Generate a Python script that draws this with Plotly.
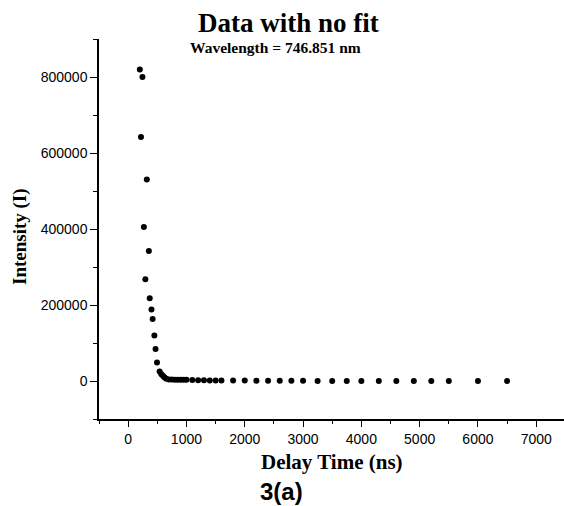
import plotly.graph_objects as go

delay_ns = [200, 245, 220, 320, 270, 355, 295, 370, 400, 420, 450, 470, 495, 540,
            570, 600, 625, 655, 700, 750, 800, 850, 900, 950, 1000, 1100, 1200, 1300,
            1400, 1500, 1600, 1800, 2000, 2200, 2400, 2600, 2800, 3000, 3250, 3500,
            3750, 4000, 4300, 4600, 4900, 5200, 5500, 6000, 6500]
intensity = [820000, 800000, 642000, 530000, 405000, 342000, 268000, 218000, 188000,
             163000, 120000, 84000, 49000, 25000, 18000, 13000, 9500, 6000, 4000, 4000,
             3500, 3000, 3000, 3000, 3000, 2500, 2000, 2000, 1500, 1500, 1000, 1000,
             1000, 800, 700, 600, 500, 400, 300, 300, 200, 200, 100, 100, 100, 0, 0, 0, 0]

y_tickvals = [0, 200000, 400000, 600000, 800000]
x_tickvals = [0, 1000, 2000, 3000, 4000, 5000, 6000, 7000]

serif = "Liberation Serif, Times New Roman, serif"
sans = "Liberation Sans, Arial, sans-serif"

W, H = 564, 506
ML, MR, MT, MB = 99, 0, 39, 87
PW, PH = W - ML - MR, H - MT - MB


def px_x(px):
    return (px - ML) / PW


def px_y(py):
    return (H - MB - py) / PH


fig = go.Figure(go.Scatter(
    x=delay_ns, y=intensity, mode="markers",
    marker=dict(color="black", size=6),
    hoverinfo="x+y"))

fig.update_layout(
    width=W, height=H,
    margin=dict(l=ML, r=MR, t=MT, b=MB),
    paper_bgcolor="white", plot_bgcolor="white",
    showlegend=False,
    font=dict(family=sans, color="black", size=13),
)

fig.update_xaxes(
    range=[-500, 7476], showgrid=False, zeroline=False,
    showline=True, linecolor="black", linewidth=1.5, mirror=False,
    tickmode="array", tickvals=x_tickvals, ticktext=[str(v) for v in x_tickvals],
    ticks="outside", ticklen=6, tickwidth=1.2, tickcolor="black",
    tickfont=dict(family=sans, size=14, color="black"),
    minor=dict(dtick=500, tick0=0, ticks="outside", ticklen=3, tickwidth=1.2, tickcolor="black"),
)
fig.update_yaxes(
    range=[-100000, 900000], showgrid=False, zeroline=False,
    showline=True, linecolor="black", linewidth=1.5, mirror=False,
    tickmode="array", tickvals=y_tickvals, ticktext=[str(v) for v in y_tickvals],
    ticks="outside", ticklen=7, tickwidth=1.2, tickcolor="black",
    tickfont=dict(family=sans, size=14, color="black"),
    minor=dict(dtick=100000, tick0=0, ticks="outside", ticklen=4, tickwidth=1.2, tickcolor="black"),
)

texts = [
    ("<b>Data with no fit</b>", 288, 7, serif, 27, "top"),
    ("<b>Wavelength = 746.851 nm</b>", 275, 38, serif, 15.5, "top"),
    ("<b>Delay Time (ns)</b>", 332, 449, serif, 21, "top"),
    ("<b>3(a)</b>", 281, 506, sans, 24, "bottom"),
]
for t, x, y, fam, sz, ya in texts:
    fig.add_annotation(text=t, x=px_x(x), y=px_y(y), xref="paper", yref="paper",
                       showarrow=False, font=dict(family=fam, size=sz, color="black"),
                       xanchor="center", yanchor=ya, borderpad=0)

fig.add_annotation(text="<b>Intensity (I)</b>", x=px_x(20), y=px_y(237),
                   xref="paper", yref="paper", textangle=-90,
                   showarrow=False, font=dict(family=serif, size=19, color="black"),
                   xanchor="center", yanchor="middle")

fig.write_html("out.html")
